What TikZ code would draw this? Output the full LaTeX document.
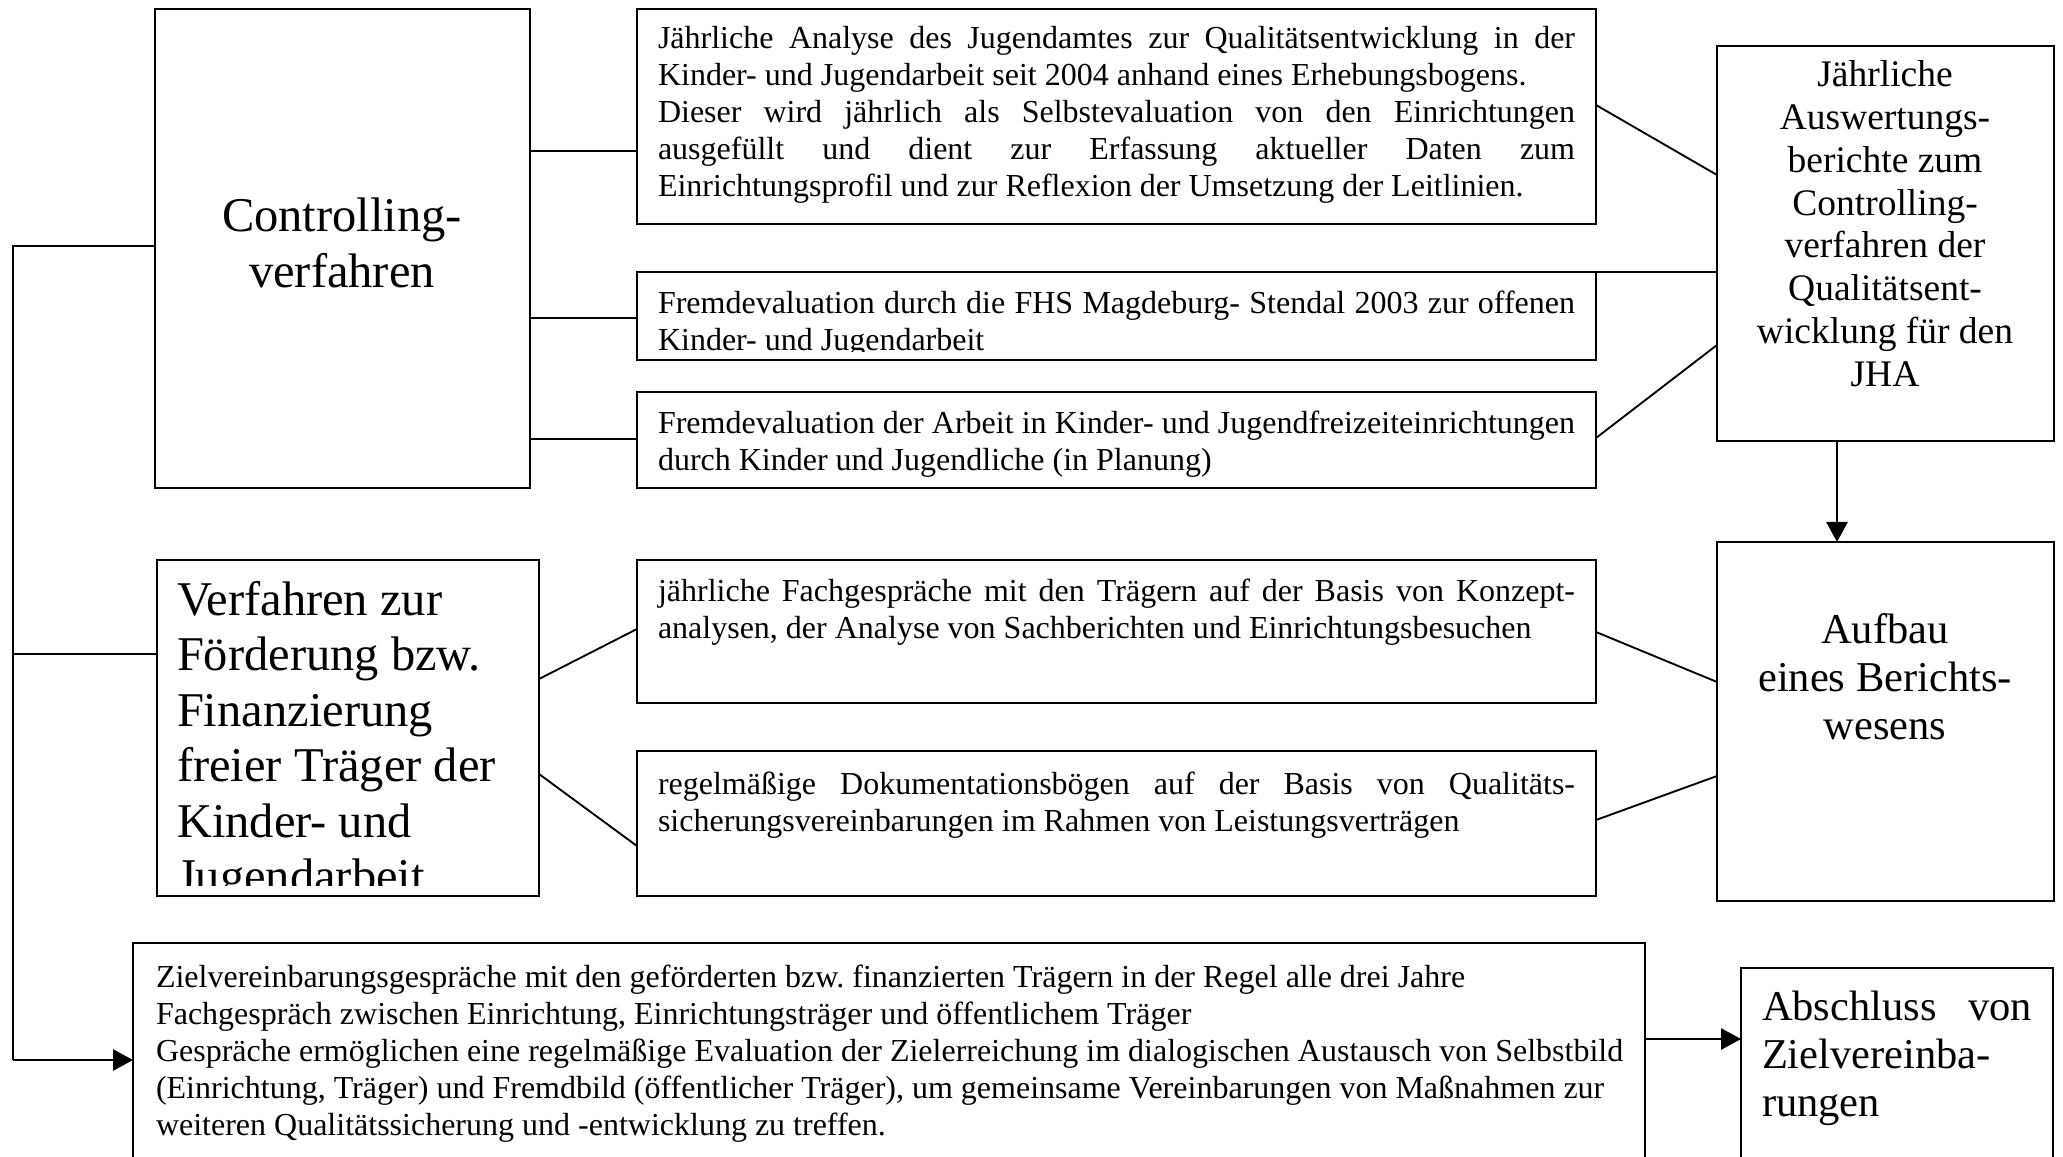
\documentclass[tikz,border=0pt]{standalone}
\usepackage{fontspec}
\setmainfont[Ligatures={CommonOff}]{Liberation Serif}
\usetikzlibrary{fit,arrows.meta}
\frenchspacing
\newcommand\fsm{\fontsize{12.8}{14.8}\selectfont}
\newcommand\fbig{\fontsize{19.4}{22.2}\selectfont}
\newcommand\fmid{\fontsize{15}{17.1}\selectfont}
\newcommand\flg{\fontsize{17}{19.2}\selectfont}
\newlength\Wa \setlength\Wa{366.8pt}
\newcommand\jst[1]{\makebox[\Wa][s]{#1}}
\newcommand\mkbox[5]{\path (#2,#3) coordinate (#1-nw) (#4,#5) coordinate (#1-se); \node[boxst, fit=(#1-nw)(#1-se)] (#1) {};}
\tikzset{
  boxst/.style={draw, line width=0.75pt, inner sep=0pt, outer sep=0pt},
  txt/.style={inner sep=0pt, outer sep=0pt},
  ln/.style={line width=0.75pt},
  arr/.style={line width=0.75pt, -{Triangle[length=8pt,width=8.5pt]}}
}
\begin{document}
\begin{tikzpicture}[x=0.4pt,y=-0.4pt]
\useasboundingbox (0,0) rectangle (2063,1157);
% boxes
\mkbox{CB}{155}{9}{530}{488}
\mkbox{A}{637}{9}{1596}{224}
\mkbox{B}{637}{272}{1596}{360}
\mkbox{C}{637}{392}{1596}{488}
\mkbox{R1}{1717}{46}{2054}{441}
\mkbox{AU}{1717}{542}{2054}{901}
\mkbox{VF}{157}{560}{539}{896}
\mkbox{D}{637}{560}{1596}{703}
\mkbox{E}{637}{751}{1596}{896}
\mkbox{Z}{133}{943}{1645}{1165}
\mkbox{AB}{1741}{968}{2053}{1165}
% texts
\node[txt, anchor=base] (tCB) at (342,232) {\fbig\begin{tabular}[t]{@{}c@{}}Controlling-\\verfahren\end{tabular}};
\node[txt, anchor=base west] (tA) at (658,49) {\fsm\begin{tabular}[t]{@{}l@{}}
\jst{Jährliche Analyse des Jugendamtes zur Qualitätsentwicklung in der}\\
Kinder- und Jugendarbeit seit 2004 anhand eines Erhebungsbogens.\\
\jst{Dieser wird jährlich als Selbstevaluation von den Einrichtungen}\\
\jst{ausgefüllt und dient zur Erfassung aktueller Daten zum}\\
Einrichtungsprofil und zur Reflexion der Umsetzung der Leitlinien.\end{tabular}};
\begin{scope}
\clip (640,275) rectangle (1593,352);
\node[txt, anchor=base west] (tB) at (658,314) {\fsm\begin{tabular}[t]{@{}l@{}}
\jst{Fremdevaluation durch die FHS Magdeburg- Stendal 2003 zur offenen}\\
Kinder- und Jugendarbeit\end{tabular}};
\end{scope}
\node[txt, anchor=base west] (tC) at (658,434) {\fsm\begin{tabular}[t]{@{}l@{}}
\jst{Fremdevaluation der Arbeit in Kinder- und Jugendfreizeiteinrichtungen}\\
durch Kinder und Jugendliche (in Planung)\end{tabular}};
\node[txt, anchor=base west] (tD) at (658,601) {\fsm\begin{tabular}[t]{@{}l@{}}
\jst{jährliche Fachgespräche mit den Trägern auf der Basis von Konzept-}\\
analysen, der Analyse von Sachberichten und Einrichtungsbesuchen\end{tabular}};
\node[txt, anchor=base west] (tE) at (658,794) {\fsm\begin{tabular}[t]{@{}l@{}}
\jst{regelmäßige Dokumentationsbögen auf der Basis von Qualitäts-}\\
sicherungsvereinbarungen im Rahmen von Leistungsverträgen\end{tabular}};
\node[txt, anchor=base] (tR1) at (1885,87) {\fmid\begin{tabular}[t]{@{}c@{}}
Jährliche\\Auswertungs-\\berichte zum\\Controlling-\\verfahren der\\Qualitätsent-\\wicklung für den\\JHA\end{tabular}};
\node[txt, anchor=base] (tAU) at (1885,643) {\flg\begin{tabular}[t]{@{}c@{}}
Aufbau\\eines Berichts-\\wesens\end{tabular}};
\begin{scope}
\clip (160,563) rectangle (536,885);
\node[txt, anchor=base west] (tVF) at (177,615) {\fbig\begin{tabular}[t]{@{}l@{}}
Verfahren zur\\Förderung bzw.\\Finanzierung\\freier Träger der\\Kinder- und\\Jugendarbeit\end{tabular}};
\end{scope}
\node[txt, anchor=base west] (tZ) at (156,987) {\fsm\begin{tabular}[t]{@{}l@{}}
Zielvereinbarungsgespräche mit den geförderten bzw. finanzierten Trägern in der Regel alle drei Jahre\\
Fachgespräch zwischen Einrichtung, Einrichtungsträger und öffentlichem Träger\\
Gespräche ermöglichen eine regelmäßige Evaluation der Zielerreichung im dialogischen Austausch von Selbstbild\\
(Einrichtung, Träger) und Fremdbild (öffentlicher Träger), um gemeinsame Vereinbarungen von Maßnahmen zur\\
weiteren Qualitätssicherung und -entwicklung zu treffen.\end{tabular}};
\node[txt, anchor=base west] (tAB) at (1762,1020) {\flg\begin{tabular}[t]{@{}l@{}}
\makebox[108pt][s]{Abschluss von}\\Zielvereinba-\\rungen\end{tabular}};
% connectors
\coordinate (trT) at (13,246);
\coordinate (trB) at (13,1060);
\draw[ln] (CB.west |- trT) -- (trT) -- (trB);
\draw[ln] (trT |- 0,654) -- (VF.west |- 0,654);
\draw[arr] (trB) -- (Z.west |- trB);
\draw[ln] (CB.east |- 0,151) -- (A.west |- 0,151);
\draw[ln] (CB.east |- 0,318) -- (B.west |- 0,318);
\draw[ln] (CB.east |- 0,439) -- (C.west |- 0,439);
\draw[ln] (A.east |- 0,105) -- (R1.west |- 0,175);
\draw[ln] (B.north east) -- (R1.west |- B.north east);
\draw[ln] (C.east |- 0,438) -- (R1.west |- 0,345);
\draw[ln] (VF.east |- 0,679) -- (D.west |- 0,629);
\draw[ln] (VF.east |- 0,774) -- (E.west |- 0,846);
\draw[ln] (D.east |- 0,632) -- (AU.west |- 0,682);
\draw[ln] (E.east |- 0,820) -- (AU.west |- 0,776);
\draw[arr] (1837,0 |- R1.south) -- (1837,0 |- AU.north);
\draw[arr] (Z.east |- 0,1039) -- (AB.west |- 0,1039);
\end{tikzpicture}
\end{document}
